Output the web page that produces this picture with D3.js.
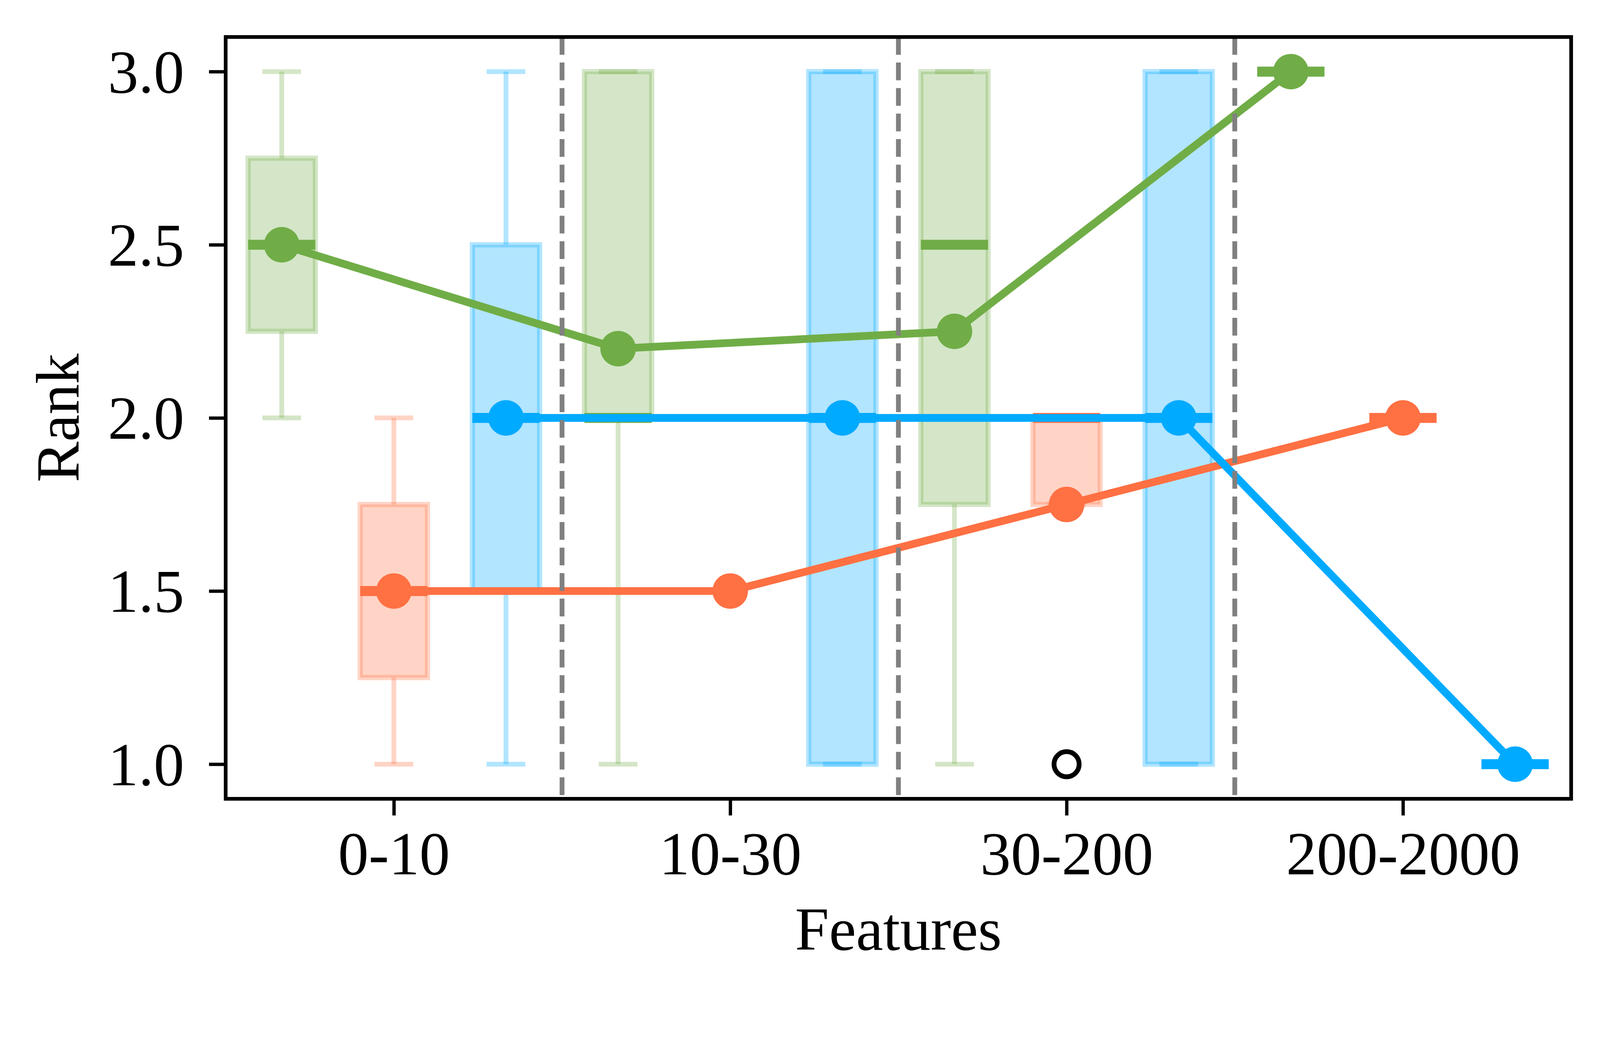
<!DOCTYPE html>
<html>
<head>
<meta charset="utf-8">
<script src="https://cdn.jsdelivr.net/npm/d3@7"></script>
<style>
    html, body { margin: 0; padding: 0; background: #fff; overflow: hidden; }
    #chart svg { display: block; }
    text { font-family: "Liberation Serif", "DejaVu Serif", serif; fill: #000; }
</style>
</head>
<body>
<div id="chart"></div>
<script>

// feature-count bins on the x axis
var groups = ["0-10", "10-30", "30-200", "200-2000"];
var yTicks = [1.0, 1.5, 2.0, 2.5, 3.0];

// box stats per bin: [whisker low, q1, median, q3, whisker high]
var greenBoxes  = [[2.0, 2.25, 2.5, 2.75, 3.0], [1.0, 2.0, 2.0, 3.0, 3.0], [1.0, 1.75, 2.5, 3.0, 3.0], [3.0, 3.0, 3.0, 3.0, 3.0]];
var orangeBoxes = [[1.0, 1.25, 1.5, 1.75, 2.0], null, [1.75, 1.75, 2.0, 2.0, 2.0], [2.0, 2.0, 2.0, 2.0, 2.0]];
var blueBoxes   = [[1.0, 1.5, 2.0, 2.5, 3.0], [1.0, 1.0, 2.0, 3.0, 3.0], [1.0, 1.0, 2.0, 3.0, 3.0], [1.0, 1.0, 1.0, 1.0, 1.0]];

// fliers
var greenOutliers  = [[], [], [], []];
var orangeOutliers = [[], [], [1.0], []];
var blueOutliers   = [[], [], [], []];

// mean rank per bin (the connected points)
var greenMeans  = [2.5, 2.2, 2.25, 3.0];
var orangeMeans = [1.5, 1.5, 1.75, 2.0];
var blueMeans   = [2.0, 2.0, 2.0, 1.0];

var colors = ["#70AD47", "#FF7043", "#00AAFF"];

var series = [
    { boxes: greenBoxes,  outliers: greenOutliers,  means: greenMeans },
    { boxes: orangeBoxes, outliers: orangeOutliers, means: orangeMeans },
    { boxes: blueBoxes,   outliers: blueOutliers,   means: blueMeans }
];


var W = 4325, H = 2703;
var margin = {top: 100, right: 78, bottom: 544, left: 610};
var plotW = W - margin.left - margin.right;
var plotH = H - margin.top - margin.bottom;

var svg = d3.select("#chart")
    .append("svg")
    .attr("viewBox", "0 0 " + W + " " + H)
    .attr("preserveAspectRatio", "xMinYMin meet")
    .style("width", "100vw")
    .style("height", "100vh");

var g = svg.append("g")
    .attr("transform", "translate(" + margin.left + "," + margin.top + ")");

var xScale = d3.scalePoint()
    .domain(groups)
    .range([0, plotW])
    .padding(0.5);

var step = xScale.step();

var yScale = d3.scaleLinear()
    .domain([0.9, 3.1])
    .range([plotH, 0]);

var offsets = [-1 / 3, 0, 1 / 3];
var boxW = 0.2 * step;
var capW = 0.115 * step;

function xPos(i, s) {
    return xScale(groups[i]) + offsets[s] * step;
}


/* boxes */
series.forEach(function(ser, s) {
    var col = colors[s];
    var layer = g.append("g").attr("class", "boxes-" + s);

    ser.boxes.forEach(function(b, i) {
        if (!b) return;
        var cx = xPos(i, s);

        layer.append("rect")
            .attr("x", cx - boxW / 2)
            .attr("y", yScale(b[3]))
            .attr("width", boxW)
            .attr("height", yScale(b[1]) - yScale(b[3]))
            .attr("fill", col)
            .attr("fill-opacity", 0.3)
            .attr("stroke", col)
            .attr("stroke-opacity", 0.3)
            .attr("stroke-width", 14);

        // whiskers
        [[b[1], b[0]], [b[3], b[4]]].forEach(function(w) {
            if (w[0] !== w[1]) {
                layer.append("line")
                    .attr("x1", cx).attr("x2", cx)
                    .attr("y1", yScale(w[0])).attr("y2", yScale(w[1]))
                    .attr("stroke", col)
                    .attr("stroke-opacity", 0.3)
                    .attr("stroke-width", 13);
            }
            layer.append("line")
                .attr("x1", cx - capW / 2).attr("x2", cx + capW / 2)
                .attr("y1", yScale(w[1])).attr("y2", yScale(w[1]))
                .attr("stroke", col)
                .attr("stroke-opacity", 0.3)
                .attr("stroke-width", 13);
        });

        // median
        layer.append("line")
            .attr("x1", cx - boxW / 2).attr("x2", cx + boxW / 2)
            .attr("y1", yScale(b[2])).attr("y2", yScale(b[2]))
            .attr("stroke", col)
            .attr("stroke-width", 27);

        // fliers
        ser.outliers[i].forEach(function(o) {
            layer.append("circle")
                .attr("cx", cx)
                .attr("cy", yScale(o))
                .attr("r", 34)
                .attr("fill", "none")
                .attr("stroke", "#000")
                .attr("stroke-width", 13);
        });
    });
});


/* mean lines + points */
series.forEach(function(ser, s) {
    var col = colors[s];
    var line = d3.line()
        .x(function(d, i) { return xPos(i, s); })
        .y(function(d) { return yScale(d); });

    g.append("path")
        .datum(ser.means)
        .attr("d", line)
        .attr("fill", "none")
        .attr("stroke", col)
        .attr("stroke-width", 21)
        .attr("stroke-linejoin", "round");

    g.selectAll(".pt-" + s)
        .data(ser.means)
        .enter()
        .append("circle")
        .attr("class", "pt-" + s)
        .attr("cx", function(d, i) { return xPos(i, s); })
        .attr("cy", function(d) { return yScale(d); })
        .attr("r", 48)
        .attr("fill", col);
});


/* separators between bins */
g.selectAll(".sep")
    .data(groups.slice(0, groups.length - 1))
    .enter()
    .append("line")
    .attr("class", "sep")
    .attr("x1", function(d) { return xScale(d) + step / 2; })
    .attr("x2", function(d) { return xScale(d) + step / 2; })
    .attr("y1", 0)
    .attr("y2", plotH)
    .attr("stroke", "#808080")
    .attr("stroke-width", 13)
    .attr("stroke-dasharray", "48,21");


/* axes */
var yAxis = g.append("g")
    .call(d3.axisLeft(yScale)
        .tickValues(yTicks)
        .tickFormat(d3.format(".1f"))
        .tickSize(45)
        .tickSizeOuter(0)
        .tickPadding(67));

var xAxis = g.append("g")
    .attr("transform", "translate(0," + plotH + ")")
    .call(d3.axisBottom(xScale)
        .tickSize(45)
        .tickSizeOuter(0));

[yAxis, xAxis].forEach(function(ax) {
    ax.select(".domain").remove();
    ax.selectAll(".tick line").attr("stroke", "#000").attr("stroke-width", 9);
    ax.selectAll(".tick text")
        .style("font-family", "'Liberation Serif', serif")
        .attr("font-size", 165)
        .attr("fill", "#000");
});

yAxis.selectAll(".tick text").attr("dy", "0.34em");
xAxis.selectAll(".tick text").attr("y", 204).attr("dy", 0);

g.append("rect")
    .attr("width", plotW)
    .attr("height", plotH)
    .attr("fill", "none")
    .attr("stroke", "#000")
    .attr("stroke-width", 10);


/* axis titles */
svg.append("text")
    .attr("x", margin.left + plotW / 2)
    .attr("y", 2567)
    .attr("text-anchor", "middle")
    .attr("font-size", 165)
    .text("Features");

svg.append("text")
    .attr("transform", "translate(212," + (margin.top + plotH / 2) + ") rotate(-90)")
    .attr("text-anchor", "middle")
    .attr("font-size", 165)
    .text("Rank");

</script>
</body>
</html>
